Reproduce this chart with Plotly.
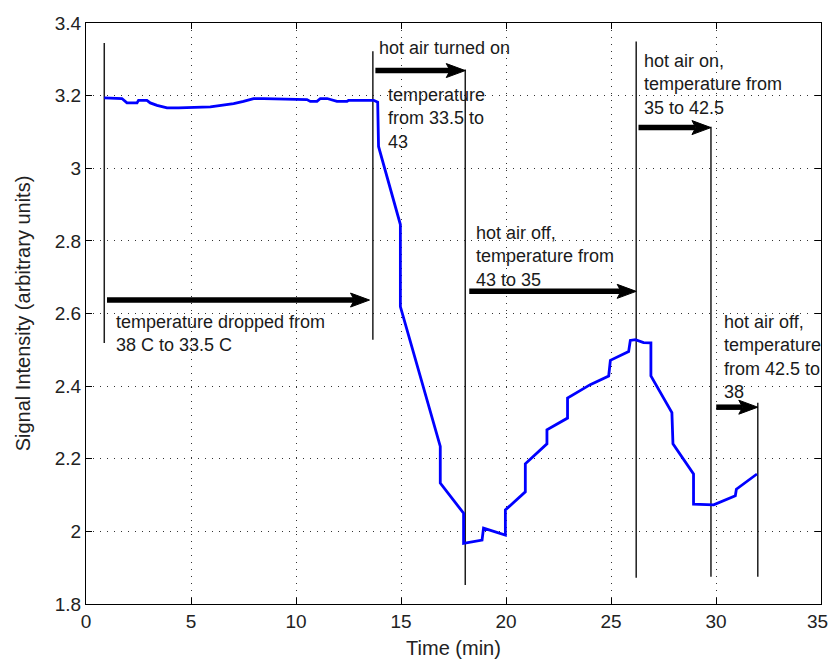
import plotly.graph_objects as go

# ---------------- data ----------------
time_min = [0.87, 1.71, 1.95, 2.43, 2.50, 2.90, 3.06, 3.38, 3.86, 4.41, 5.92, 6.40, 7.03, 7.50,
            7.98, 8.46, 10.52, 10.68, 11.00, 11.16, 11.48, 11.95, 12.43, 12.50, 13.70, 13.89,
            13.93, 14.97, 14.97, 16.87, 16.87, 17.98, 17.98, 18.86, 18.93, 19.97, 19.97,
            20.92, 20.92, 21.95, 21.95, 22.93, 22.93, 24.01, 24.89, 24.97, 25.84, 25.92,
            26.16, 26.55, 26.90, 26.90, 27.90, 27.95, 28.93, 28.93, 29.89, 30.92, 30.97, 31.95]
signal = [3.194, 3.192, 3.180, 3.180, 3.187, 3.187, 3.180, 3.173, 3.166, 3.166, 3.169, 3.173,
          3.178, 3.184, 3.192, 3.192, 3.189, 3.184, 3.184, 3.192, 3.192, 3.184, 3.184, 3.187,
          3.187, 3.182, 3.060, 2.845, 2.619, 2.234, 2.133, 2.050, 1.967, 1.976, 2.009, 1.990,
          2.059, 2.109, 2.186, 2.241, 2.280, 2.312, 2.367, 2.404, 2.428, 2.471, 2.495, 2.526,
          2.528, 2.520, 2.519, 2.428, 2.327, 2.241, 2.158, 2.075, 2.073, 2.098, 2.116, 2.158]

# event marker lines
vline_x = [0.87, 13.66, 18.06, 26.20, 29.76, 31.99]
vline_top = [3.345, 3.322, 3.272, 3.349, 3.114, 2.354]
vline_bottom = [2.519, 2.528, 1.852, 1.872, 1.875, 1.875]

# arrows
arrow_x0 = [1.00, 13.78, 18.25, 26.31, 30.01]
arrow_x1 = [13.50, 18.06, 26.20, 29.76, 31.99]
arrow_y = [2.637, 3.269, 2.661, 3.112, 2.342]

# text notes
note_text = ["temperature dropped from<br>38 C to 33.5 C",
             "hot air turned on",
             "temperature<br>from 33.5 to<br>43",
             "hot air off,<br>temperature from<br>43 to 35",
             "hot air on,<br>temperature from<br>35 to 42.5",
             "hot air off,<br>temperature<br>from 42.5 to<br>38"]
note_x = [1.40, 13.92, 14.33, 18.54, 26.52, 30.33]
note_y = [2.606, 3.362, 3.233, 2.852, 3.327, 2.606]

x_ticks = [0, 5, 10, 15, 20, 25, 30, 35]
x_tick_labels = ["0", "5", "10", "15", "20", "25", "30", "35"]
y_ticks = [1.8, 2.0, 2.2, 2.4, 2.6, 2.8, 3.0, 3.2, 3.4]
y_tick_labels = ["1.8", "2", "2.2", "2.4", "2.6", "2.8", "3", "3.2", "3.4"]
x_range = [0, 35]
y_range = [1.8, 3.4]

# ---------------- layout / style ----------------
W, H = 830, 664
ML, MR, MT, MB = 86, 9, 23, 60
plot_w = W - ML - MR
plot_h = H - MT - MB
px_per_x = plot_w / (x_range[1] - x_range[0])
px_per_y = plot_h / (y_range[1] - y_range[0])
HEAD_LEN = 19 / px_per_x
HEAD_HALF = 7 / px_per_y
NOTCH = 0.2 * HEAD_LEN

text_font = dict(family="Liberation Sans, Arial, sans-serif", size=18, color="#1a1a1a")
tick_font = dict(family="Liberation Sans Narrow, Liberation Sans, Arial, sans-serif", size=19, color="#222")
title_font = dict(family="Liberation Sans, Arial, sans-serif", size=20, color="#222")

fig = go.Figure()

# vertical event lines
vx, vy = [], []
for x, t, b in zip(vline_x, vline_top, vline_bottom):
    vx += [x, x, None]
    vy += [t, b, None]
fig.add_trace(go.Scatter(x=vx, y=vy, mode="lines", line=dict(color="#1e1e1e", width=1.5),
                         hoverinfo="skip", showlegend=False))

# arrow shafts and heads
for x0, x1, y in zip(arrow_x0, arrow_x1, arrow_y):
    fig.add_trace(go.Scatter(x=[x0, x1 - HEAD_LEN + NOTCH], y=[y, y], mode="lines",
                             line=dict(color="black", width=5.5), hoverinfo="skip", showlegend=False))
    fig.add_trace(go.Scatter(
        x=[x1, x1 - HEAD_LEN, x1 - HEAD_LEN + NOTCH, x1 - HEAD_LEN, x1],
        y=[y, y + HEAD_HALF, y, y - HEAD_HALF, y],
        mode="lines", fill="toself", fillcolor="black", line=dict(color="black", width=1),
        hoverinfo="skip", showlegend=False))

# signal line
fig.add_trace(go.Scatter(x=time_min, y=signal, mode="lines",
                         line=dict(color="#0000ff", width=2.8), showlegend=False))

annotations = []
for txt, x, y in zip(note_text, note_x, note_y):
    annotations.append(dict(x=x, y=y, xref="x", yref="y", text=txt, showarrow=False,
                            xanchor="left", yanchor="top", align="left", font=text_font,
                            borderpad=0))

# last x tick label is drawn right-aligned to the page edge so it is not clipped
annotations.append(dict(x=x_ticks[-1], y=0, xref="x", yref="paper", text=x_tick_labels[-1],
                        showarrow=False, xanchor="right", yanchor="middle", xshift=MR - 1,
                        yshift=-17, font=tick_font, borderpad=0))
shown_x_labels = x_tick_labels[:-1] + [""]

fig.update_layout(
    width=W, height=H,
    margin=dict(l=ML, r=MR, t=MT, b=MB, pad=0, autoexpand=False),
    paper_bgcolor="white", plot_bgcolor="white",
    annotations=annotations,
    xaxis=dict(range=x_range, tickvals=x_ticks, ticktext=shown_x_labels, ticks="inside",
               ticklen=6, tickcolor="black",
               showline=True, linecolor="black", linewidth=1, mirror="ticks",
               showgrid=True, gridcolor="#333", gridwidth=1, griddash="1px,6px",
               zeroline=False, tickfont=tick_font, ticklabeloverflow="allow", automargin=False,
               title=dict(text="Time (min)", font=title_font, standoff=10)),
    yaxis=dict(range=y_range, tickvals=y_ticks, ticktext=y_tick_labels, ticks="inside",
               ticklen=6, tickcolor="black",
               showline=True, linecolor="black", linewidth=1, mirror="ticks",
               showgrid=True, gridcolor="#333", gridwidth=1, griddash="1px,6px",
               zeroline=False, tickfont=tick_font, ticklabeloverflow="allow", automargin=False,
               title=dict(text="Signal Intensity (arbitrary units)", font=title_font, standoff=18)),
)

fig.write_html("out.html")
